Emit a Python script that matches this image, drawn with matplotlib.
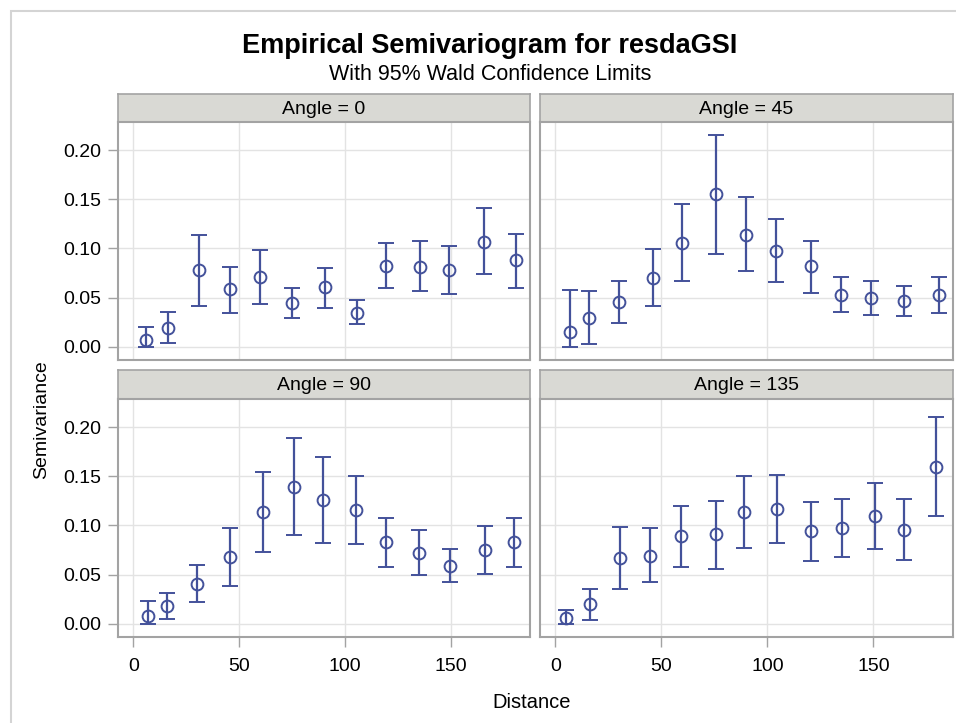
import numpy as np
import matplotlib.pyplot as plt
from matplotlib.patches import Rectangle

plt.rcParams['font.family'] = ['Liberation Sans', 'DejaVu Sans']

# lag distance, semivariance and 95% Wald limits
dist0 = [5.8, 16.4, 31.2, 45.8, 60.0, 74.8, 90.8, 105.5, 119.2, 135.4, 149.4, 165.6, 180.7]
semi0 = [0.0075, 0.0197, 0.0782, 0.0585, 0.0707, 0.0449, 0.0605, 0.0347, 0.0827, 0.0816, 0.0779, 0.107, 0.0878]
low0 = [0.0, 0.0044, 0.0415, 0.0347, 0.0435, 0.0289, 0.0398, 0.0231, 0.0595, 0.0565, 0.0534, 0.0738, 0.0599]
upp0 = [0.0204, 0.0357, 0.114, 0.0813, 0.0983, 0.0602, 0.0799, 0.0473, 0.106, 0.108, 0.103, 0.1415, 0.115]

dist45 = [6.9, 15.6, 30.1, 45.8, 59.7, 75.9, 89.9, 103.9, 120.3, 134.9, 148.7, 164.5, 180.7]
semi45 = [0.0153, 0.0296, 0.0456, 0.0704, 0.106, 0.155, 0.114, 0.0973, 0.082, 0.0531, 0.05, 0.0466, 0.0527]
low45 = [0.0, 0.0034, 0.0238, 0.0412, 0.0673, 0.0946, 0.0772, 0.0663, 0.0551, 0.0354, 0.0327, 0.0313, 0.0347]
upp45 = [0.0578, 0.0565, 0.0667, 0.099, 0.145, 0.215, 0.152, 0.1296, 0.108, 0.0707, 0.0667, 0.0616, 0.0707]

dist90 = [6.8, 15.9, 30.1, 45.6, 61.2, 76.0, 89.7, 105.1, 119.3, 134.9, 149.7, 166.4, 180.1]
semi90 = [0.0085, 0.0179, 0.0406, 0.068, 0.114, 0.139, 0.126, 0.1154, 0.0829, 0.0724, 0.0589, 0.0751, 0.0829]
low90 = [0.0, 0.0051, 0.022, 0.0382, 0.0734, 0.0904, 0.0826, 0.0809, 0.0579, 0.0494, 0.0423, 0.0511, 0.0579]
upp90 = [0.023, 0.0318, 0.0596, 0.0975, 0.154, 0.189, 0.1695, 0.150, 0.108, 0.0958, 0.0765, 0.0995, 0.108]

dist135 = [4.9, 16.2, 30.2, 44.7, 59.3, 75.9, 88.9, 104.4, 120.7, 135.1, 150.5, 164.6, 179.4]
semi135 = [0.0061, 0.0203, 0.067, 0.0694, 0.089, 0.091, 0.1137, 0.1168, 0.0941, 0.0975, 0.1096, 0.0958, 0.159]
low135 = [0.0, 0.0044, 0.0352, 0.0423, 0.0579, 0.0558, 0.0772, 0.0819, 0.0643, 0.0684, 0.0765, 0.065, 0.1096]
upp135 = [0.0146, 0.0355, 0.0988, 0.0975, 0.1195, 0.125, 0.1506, 0.1516, 0.1239, 0.1269, 0.1428, 0.1269, 0.2098]

angles = [0, 45, 90, 135]
data = {
    0: (dist0, semi0, low0, upp0),
    45: (dist45, semi45, low45, upp45),
    90: (dist90, semi90, low90, upp90),
    135: (dist135, semi135, low135, upp135),
}
yticks = [0.0, 0.05, 0.10, 0.15, 0.20]
xticks = [0, 50, 100, 150]

W, H = 956, 723
fig = plt.figure(figsize=(W / 100, H / 100), dpi=100)


def box(x0, y0, x1, y1):
    # pixel box (top-left origin) -> figure fraction rect
    return [x0 / W, 1 - y1 / H, (x1 - x0) / W, (y1 - y0) / H]


# outer frame
fig.patches.append(Rectangle((11 / W, -0.05), 1.0, 1 - 11 / H + 0.05,
                             transform=fig.transFigure, fill=False,
                             edgecolor='#d4d4d4', linewidth=1.5))

# x0, x1, header top, plot top, plot bottom
layout = {
    0: (118, 530, 94, 122, 360),
    45: (540, 953, 94, 122, 360),
    90: (118, 530, 370, 399, 637),
    135: (540, 953, 370, 399, 637),
}

col = '#43519a'
frame = '#a3a3a3'

for ang in angles:
    x0, x1, hy, py0, py1 = layout[ang]

    hax = fig.add_axes(box(x0, hy, x1, py0))
    hax.set_facecolor('#d9d9d4')
    hax.set_xticks([])
    hax.set_yticks([])
    for s in hax.spines.values():
        s.set_color(frame)
        s.set_linewidth(1.2)
    hax.text(0.5, 0.45, 'Angle = %d' % ang, ha='center', va='center',
             fontsize=14, transform=hax.transAxes)

    ax = fig.add_axes(box(x0, py0, x1, py1))
    d, s, lo, hi = [np.array(v) for v in data[ang]]
    ax.errorbar(d, s, yerr=[s - lo, hi - s], fmt='o', color=col,
                mfc='none', mec=col, ms=8.5, mew=1.4,
                elinewidth=1.6, capsize=6, capthick=1.6)
    ax.set_xlim(-7.3, 187.5)
    ax.set_ylim(-0.0133, 0.2285)
    ax.set_xticks(xticks)
    ax.set_yticks(yticks)
    ax.grid(True, color='#e3e3e3', linewidth=1)
    ax.set_axisbelow(True)
    for sp in ax.spines.values():
        sp.set_color(frame)
        sp.set_linewidth(1.5)
    ax.tick_params(direction='out', length=7, width=1, color=frame,
                   labelsize=14, pad=5)
    ax.tick_params(axis='x', pad=8)
    ax.yaxis.set_major_formatter(plt.FormatStrFormatter('%.2f'))
    if ang in (45, 135):
        ax.tick_params(axis='y', left=False, labelleft=False)
    if ang in (0, 45):
        ax.tick_params(axis='x', bottom=False, labelbottom=False)

fig.text(490 / W, 1 - 46 / H, 'Empirical Semivariogram for resdaGSI',
         ha='center', va='center', fontsize=19.5, fontweight='bold')
fig.text(490 / W, 1 - 74 / H, 'With 95% Wald Confidence Limits',
         ha='center', va='center', fontsize=15.5)
fig.text(42 / W, 1 - 420 / H, 'Semivariance', rotation=90,
         ha='center', va='center', fontsize=14)
fig.text(532 / W, 1 - 703 / H, 'Distance', ha='center', va='center',
         fontsize=14.5)

fig.savefig('out.png', dpi=100)
